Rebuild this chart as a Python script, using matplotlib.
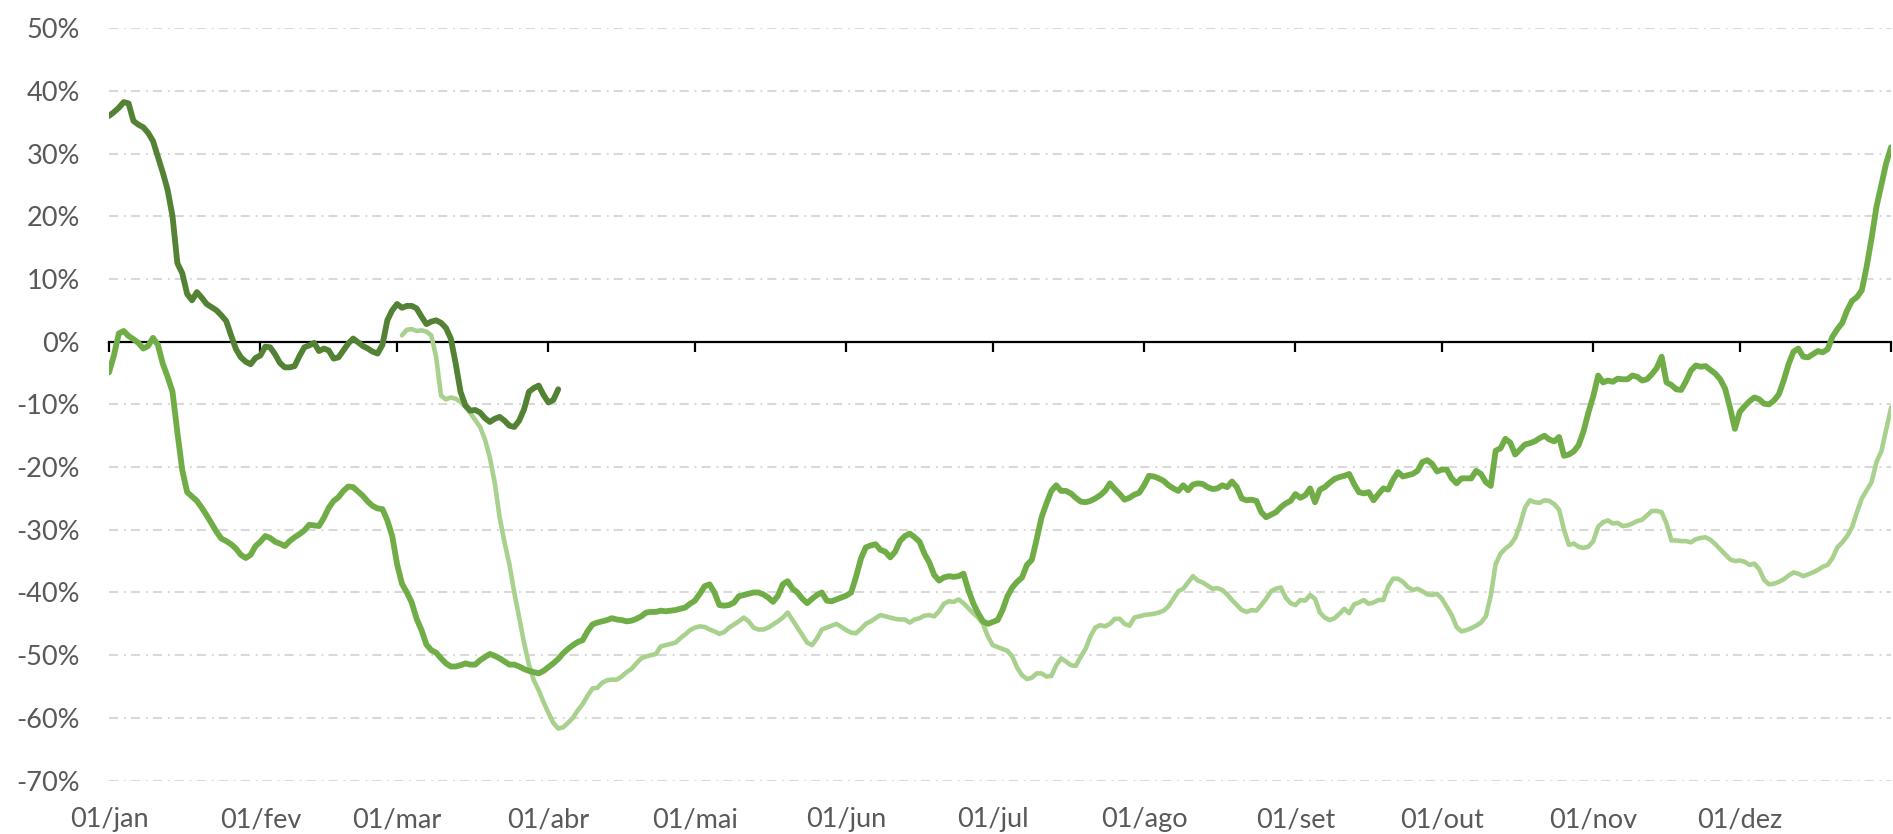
import matplotlib
matplotlib.use("Agg")
import matplotlib.pyplot as plt

# ---------------- data ----------------
month_starts = [0, 31, 59, 90, 120, 151, 181, 212, 243, 273, 304, 334, 365]
month_labels = ["01/jan", "01/fev", "01/mar", "01/abr", "01/mai", "01/jun",
                "01/jul", "01/ago", "01/set", "01/out", "01/nov", "01/dez"]
y_ticks = [50, 40, 30, 20, 10, 0, -10, -20, -30, -40, -50, -60, -70]
y_labels = ["50%", "40%", "30%", "20%", "10%", "0%", "-10%", "-20%", "-30%",
            "-40%", "-50%", "-60%", "-70%"]

# light series (starts in March)
light_days = list(range(60, 366))
light_vals = [
    1.0, 1.9, 2.0, 1.7, 1.8, 1.6, 1.0, -2.5, -8.6, -9.2,
    -8.9, -9.1, -9.6, -10.4, -11.4, -12.5, -13.6, -15.6, -18.5, -22.5,
    -28.0, -32.0, -35.5, -40.0, -44.0, -48.0, -51.5, -54.0, -55.6, -57.5,
    -59.2, -60.8, -61.7, -61.5, -60.8, -60.0, -58.8, -57.8, -56.5, -55.3,
    -55.2, -54.4, -54.0, -53.9, -53.9, -53.4, -52.7, -52.2, -51.3, -50.5,
    -50.2, -50.0, -49.8, -48.6, -48.4, -48.2, -48.0, -47.3, -46.7, -46.0,
    -45.6, -45.4, -45.5, -45.9, -46.2, -46.6, -46.3, -45.6, -45.1, -44.6,
    -44.0, -44.6, -45.6, -45.9, -45.9, -45.6, -45.1, -44.6, -44.0, -43.2,
    -44.4, -45.6, -46.8, -48.0, -48.4, -47.3, -45.9, -45.6, -45.3, -45.0,
    -45.5, -46.0, -46.4, -46.5, -45.8, -45.0, -44.6, -44.1, -43.6, -43.8,
    -44.0, -44.2, -44.3, -44.3, -44.8, -44.3, -44.1, -43.7, -43.6, -43.8,
    -43.0, -41.8, -41.4, -41.5, -41.1, -41.7, -42.5, -43.3, -44.0, -45.0,
    -47.0, -48.4, -48.7, -49.0, -49.3, -50.2, -52.0, -53.2, -53.8, -53.6,
    -52.9, -52.9, -53.4, -53.3, -51.6, -50.5, -51.0, -51.6, -51.7, -50.3,
    -49.0, -47.0, -45.6, -45.2, -45.4, -45.0, -44.2, -44.2, -45.0, -45.3,
    -44.0, -43.8, -43.6, -43.5, -43.4, -43.2, -42.9, -42.2, -41.0, -39.8,
    -39.4, -38.4, -37.4, -38.1, -38.4, -38.9, -39.4, -39.3, -39.6, -40.3,
    -41.2, -42.0, -42.8, -43.1, -42.8, -42.9, -42.0, -41.0, -39.8, -39.4,
    -39.2, -40.8, -41.7, -42.0, -41.2, -41.3, -40.4, -41.0, -43.2, -44.0,
    -44.4, -44.1, -43.4, -42.6, -43.3, -41.9, -41.6, -41.2, -41.8, -41.6,
    -41.2, -41.2, -39.0, -37.8, -37.8, -38.3, -39.1, -39.6, -39.4, -39.8,
    -40.3, -40.4, -40.2, -41.0, -42.3, -43.6, -45.5, -46.2, -46.0, -45.7,
    -45.3, -44.8, -43.8, -40.5, -35.5, -33.8, -33.0, -32.4, -31.3, -29.2,
    -26.5, -25.3, -25.6, -25.7, -25.3, -25.4, -25.9, -26.8, -30.0, -32.4,
    -32.2, -32.7, -32.9, -32.7, -31.8, -29.5, -28.8, -28.5, -29.0, -28.9,
    -29.4, -29.3, -29.0, -28.6, -28.4, -27.7, -27.0, -27.0, -27.2, -29.0,
    -31.7, -31.7, -31.8, -31.8, -32.0, -31.5, -31.3, -31.2, -31.6, -32.3,
    -33.1, -33.9, -34.7, -35.0, -34.9, -35.1, -35.6, -35.4, -36.3, -38.0,
    -38.7, -38.6, -38.3, -37.9, -37.3, -36.8, -37.0, -37.4, -37.1, -36.8,
    -36.4, -35.9, -35.6, -34.5, -32.8, -32.0, -31.0, -29.6, -27.2, -25.0,
    -23.7, -22.4, -19.2, -17.5, -14.0, -10.5,
]

# medium series (full year)
medium_days = list(range(0, 366))
medium_vals = [
    -4.9, -2.2, 1.3, 1.7, 0.9, 0.4, -0.2, -1.1, -0.7, 0.6,
    -0.5, -3.5, -5.6, -8.0, -14.5, -20.5, -24.0, -24.7, -25.4, -26.5,
    -27.7, -29.0, -30.3, -31.4, -31.8, -32.3, -33.0, -34.0, -34.5, -34.0,
    -32.6, -31.9, -31.0, -31.3, -31.9, -32.2, -32.6, -31.8, -31.2, -30.7,
    -30.1, -29.2, -29.3, -29.4, -28.1, -26.5, -25.4, -24.8, -23.8, -23.1,
    -23.2, -23.9, -24.6, -25.5, -26.2, -26.6, -26.7, -28.5, -31.0, -35.5,
    -38.6, -40.0, -41.6, -44.2, -46.0, -48.3, -49.2, -49.6, -50.5, -51.3,
    -51.8, -51.8, -51.6, -51.3, -51.5, -51.5, -50.8, -50.3, -49.8, -50.1,
    -50.5, -51.0, -51.5, -51.5, -51.8, -52.2, -52.5, -52.7, -52.9, -52.5,
    -51.9, -51.3, -50.6, -49.7, -49.0, -48.4, -47.9, -47.6, -46.2, -45.1,
    -44.8, -44.6, -44.4, -44.1, -44.3, -44.4, -44.6, -44.5, -44.2, -43.8,
    -43.2, -43.1, -43.1, -42.9, -43.0, -42.9, -42.8, -42.6, -42.4, -41.8,
    -41.3, -40.2, -39.0, -38.7, -40.0, -42.0, -42.1, -42.0, -41.6, -40.6,
    -40.4, -40.2, -40.0, -40.0, -40.3, -40.8, -41.5, -40.5, -38.7, -38.2,
    -39.4, -40.0, -41.0, -41.7, -41.0, -40.4, -40.0, -41.3, -41.4, -41.1,
    -40.8, -40.5, -40.0, -37.5, -34.6, -32.8, -32.5, -32.3, -33.2, -33.5,
    -34.4, -33.5, -31.8, -31.0, -30.6, -31.2, -31.9, -33.8, -35.2, -37.2,
    -38.1, -37.6, -37.4, -37.5, -37.4, -37.0, -39.6, -41.7, -43.3, -44.6,
    -45.0, -44.7, -44.4, -42.8, -40.6, -39.2, -38.3, -37.6, -35.6, -34.8,
    -31.5, -28.0, -25.8, -23.8, -22.9, -23.8, -23.8, -24.2, -24.9, -25.5,
    -25.6, -25.4, -25.0, -24.5, -23.8, -22.6, -23.5, -24.3, -25.2, -24.9,
    -24.4, -24.1, -22.9, -21.4, -21.5, -21.8, -22.2, -22.9, -23.4, -23.8,
    -22.9, -23.7, -22.8, -22.6, -22.7, -23.2, -23.5, -23.4, -22.9, -23.2,
    -22.3, -23.2, -25.0, -25.3, -25.2, -25.4, -27.2, -28.0, -27.6, -27.2,
    -26.4, -25.8, -25.4, -24.3, -24.9, -24.5, -23.4, -25.6, -23.6, -23.2,
    -22.5, -21.9, -21.6, -21.4, -21.1, -22.7, -24.0, -24.2, -24.0, -25.3,
    -24.3, -23.4, -23.6, -22.0, -20.8, -21.5, -21.3, -21.1, -20.6, -19.2,
    -18.9, -19.5, -20.7, -20.4, -20.4, -21.8, -22.6, -21.8, -21.8, -21.8,
    -20.6, -21.1, -22.4, -23.0, -17.4, -17.0, -15.5, -16.1, -18.0, -17.2,
    -16.4, -16.2, -15.9, -15.4, -15.0, -15.6, -15.9, -15.2, -18.2, -18.0,
    -17.5, -16.5, -14.3, -11.3, -8.7, -5.4, -6.5, -6.2, -6.4, -5.9,
    -6.0, -6.0, -5.4, -5.6, -6.2, -6.0, -5.2, -4.2, -2.4, -6.5,
    -6.9, -7.6, -7.7, -6.3, -4.6, -3.8, -4.0, -3.9, -4.5, -5.1,
    -6.0, -7.5, -10.5, -13.9, -11.2, -10.3, -9.5, -8.9, -9.2, -9.9,
    -10.0, -9.4, -8.4, -6.2, -3.6, -1.6, -1.1, -2.4, -2.5, -2.0,
    -1.5, -1.7, -1.2, 0.8, 2.0, 3.0, 5.0, 6.5, 7.1, 8.2,
    12.0, 16.5, 21.5, 25.0, 28.5, 31.0,
]

# dark series (Jan - early Apr)
dark_days = list(range(0, 93))
dark_vals = [
    36.0, 36.6, 37.3, 38.2, 38.0, 35.2, 34.6, 34.2, 33.3, 32.0,
    29.5, 27.0, 24.2, 20.0, 12.5, 10.9, 7.6, 6.6, 7.9, 7.0,
    6.0, 5.5, 5.0, 4.2, 3.3, 1.0, -1.2, -2.5, -3.2, -3.6,
    -2.6, -2.2, -0.8, -0.9, -2.0, -3.4, -4.1, -4.1, -3.9, -2.3,
    -0.9, -0.6, -0.2, -1.5, -1.1, -1.4, -2.7, -2.5, -1.4, -0.3,
    0.5, -0.1, -0.7, -1.1, -1.6, -1.9, -0.5, 3.4, 5.0, 6.0,
    5.4, 5.7, 5.7, 5.3, 4.0, 2.8, 3.2, 3.4, 3.0, 2.2,
    0.5, -3.5, -8.0, -10.2, -11.0, -10.9, -11.3, -12.2, -12.8, -12.3,
    -12.0, -12.6, -13.4, -13.6, -12.6, -10.8, -8.0, -7.4, -7.0, -8.5,
    -9.7, -9.3, -7.6,
]

# ---------------- style ----------------
c_light = "#A9D18E"
c_medium = "#70AD47"
c_dark = "#548235"
txt = "#595959"
font = ["Lato", "DejaVu Sans"]

plt.rcParams["font.family"] = font
plt.rcParams["lines.scale_dashes"] = False

fig = plt.figure(figsize=(18.93, 8.34), dpi=100)
ax = fig.add_axes([0.0576, 0.064, 0.9414, 0.9023])

ax.set_xlim(month_starts[0], month_starts[-1])
ax.set_ylim(min(y_ticks), max(y_ticks))

# grid lines (long dash dot)
for yv in y_ticks:
    if yv != 0:
        ax.axhline(yv, color="#D9D9D9", lw=1.5,
                   linestyle=(0, (6.5, 4.3, 1.4, 3.6)), zorder=1)

ax.plot(light_days, light_vals, color=c_light, lw=3.3, zorder=3,
        solid_joinstyle="round", solid_capstyle="round")
ax.plot(medium_days, medium_vals, color=c_medium, lw=4.2, zorder=4,
        solid_joinstyle="round", solid_capstyle="round")
ax.plot(dark_days, dark_vals, color=c_dark, lw=4.2, zorder=5,
        solid_joinstyle="round", solid_capstyle="round")

# zero axis line with tick marks
for s in ["top", "right", "left"]:
    ax.spines[s].set_visible(False)
ax.spines["bottom"].set_position(("data", 0))
ax.spines["bottom"].set_color("black")
ax.spines["bottom"].set_linewidth(1.6)
ax.spines["bottom"].set_zorder(2)
ax.set_xticks(month_starts)
ax.set_xticklabels([""] * len(month_starts))
ax.tick_params(axis="x", direction="out", length=7.5, width=1.6,
               color="black")

# y labels
ax.set_yticks(y_ticks)
ax.set_yticklabels(y_labels)
ax.tick_params(axis="y", length=0, pad=21, labelsize=19.5, labelcolor=txt)

# month labels at the bottom
sec = ax.secondary_xaxis("bottom")
sec.set_xticks(month_starts[:-1])
sec.set_xticklabels(month_labels)
sec.spines["bottom"].set_visible(False)
sec.tick_params(axis="x", length=0, pad=19, labelsize=19.5, labelcolor=txt)
for lab in sec.get_xticklabels():
    lab.set_family(font)

fig.savefig("out.png", dpi=100, facecolor="white")
